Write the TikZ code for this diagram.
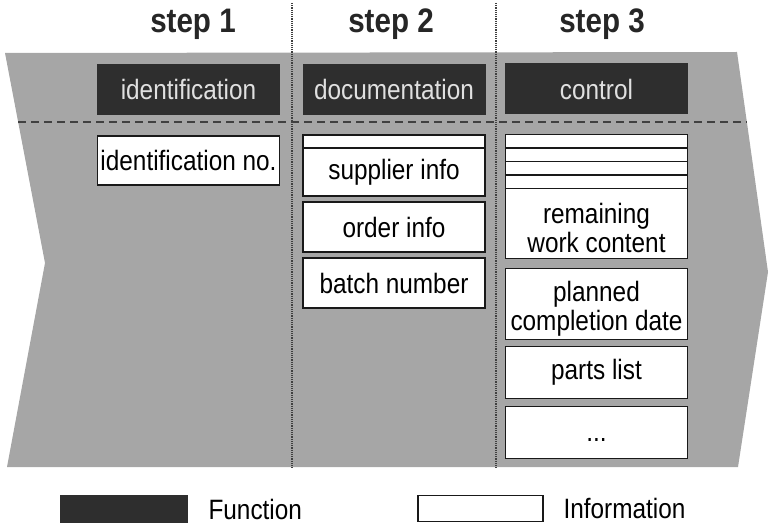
\documentclass[tikz,border=0pt]{standalone}
\usepackage{fontspec}
\setmainfont{Liberation Sans}[FakeStretch=0.87]
\usepackage{tikz}
\usetikzlibrary{positioning,backgrounds}

\begin{document}
\begin{tikzpicture}
%defines
  [x=1pt,y=-1pt,
steplabel/.style={font=\fontsize{34}{36}\selectfont\bfseries,text=black!85},
func/.style={rectangle,fill=black!82,text=black!12,inner sep=0pt,outer sep=0pt,
minimum width=183pt,minimum height=51pt,font=\fontsize{28}{29}\selectfont},
info/.style={rectangle,draw=black!90,fill=white,line width=1.8pt,inner sep=0pt,
outer sep=0pt,minimum width=182pt,font=\fontsize{28}{29}\selectfont,align=center},
twolines/.style={text height=59pt},
strip/.style={info,minimum height=13.5pt},
divider/.style={densely dotted,line width=1.2pt,black!75},
legtext/.style={font=\fontsize{28}{29}\selectfont,anchor=west}]
\useasboundingbox (0,0) rectangle (769,524);
% grey arrow band
\fill[black!35] (5,53) -- (737,52) -- (768,272) -- (738,467) -- (7,467) -- (45,263) -- cycle;
\coordinate (dashL) at (18,122);
\coordinate (dashR) at (747,122);
\draw[dashed,dash pattern=on 8pt off 5pt,line width=2.4pt,black!75] (dashL) -- (dashR);
\coordinate (divAtop) at (292,3);
\coordinate (divAbot) at (292,468);
\coordinate (divBtop) at (496,3);
\coordinate (divBbot) at (496,468);
\draw[divider] (divAtop) -- (divAbot);
\draw[divider] (divBtop) -- (divBbot);
% steps
\node[steplabel] (step1) at (193,24) {step 1};
\node[steplabel] (step2) at (391,24) {step 2};
\node[steplabel] (step3) at (602,24) {step 3};
\node[func] (identification) at (188.5,89.5) {identification};
\node[func] (documentation) at (394,89.5) {documentation};
\node[func] (control) at (596.5,89) {control};
% step 1
\node[info,minimum height=49pt] (id no) [below=21pt of identification] {identification no.};
% step 2
\node[strip,minimum height=13pt] (supplier strip) [below=20pt of documentation] {};
\node[info,minimum height=48pt] (supplier) [below=0pt of supplier strip] {supplier info};
\node[info,minimum height=50pt] (order) [below=6pt of supplier] {order info};
\node[info,minimum height=50pt] (batch) [below=6pt of order] {batch number};
% step 3
\node[strip] (control strip a) [below=20pt of control] {};
\node[strip] (control strip b) [below=0pt of control strip a] {};
\node[strip] (control strip c) [below=0pt of control strip b] {};
\node[strip] (control strip d) [below=0pt of control strip c] {};
\node[info,twolines,minimum height=70pt] (remaining) [below=0pt of control strip d] {remaining\\work content};
\node[info,twolines,minimum height=71pt] (planned) [below=10pt of remaining] {planned\\completion date};
\node[info,minimum height=52pt] (parts) [below=7pt of planned] {parts list};
\node[info,minimum height=52pt,text height=20pt,text depth=2pt] (more) [below=8pt of parts] {...};
% legend
\node[func,minimum width=128pt,minimum height=28pt] (leg func) at (124,509) {};
\node[legtext] (leg func text) [right=17pt of leg func] {Function};
\node[info,line width=1.4pt,minimum width=125pt,minimum height=26pt] (leg info) at (480.5,508.5) {};
\node[legtext] (leg info text) [right=17pt of leg info] {Information};
\end{tikzpicture}
\end{document}
